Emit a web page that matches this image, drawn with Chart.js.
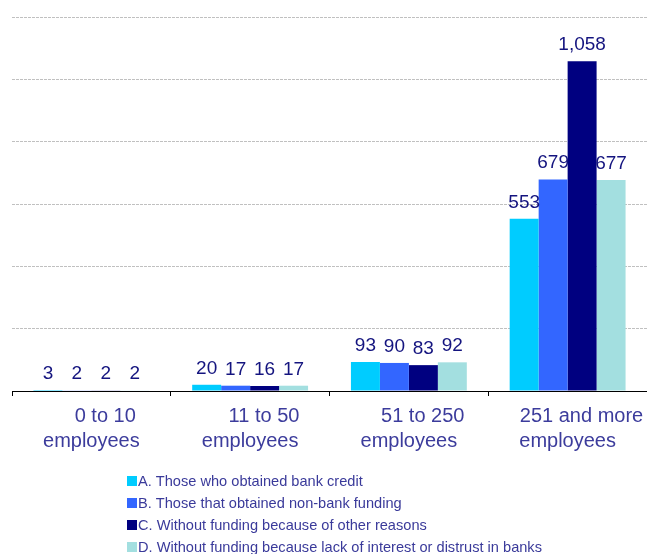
<!DOCTYPE html>
<html>
<head>
<meta charset="utf-8">
<script src="https://cdn.jsdelivr.net/npm/chart.js@4"></script>
<style>
  html, body { margin: 0; padding: 0; background: #fff; }
  #wrap { width: 647px; height: 554px; }
</style>
</head>
<body>
<div id="wrap"><canvas id="fundingChart" width="647" height="554"></canvas></div>
<script>
// company size groups (leading spaces keep the first line a bit to the right)
const categories = [
    ['     0 to 10', 'employees'],
    ['     11 to 50', 'employees'],
    ['     51 to 250', 'employees'],
    ['     251 and more', 'employees']
];
const seriesNames = [
    'A. Those who obtained bank credit',
    'B. Those that obtained non-bank funding',
    'C. Without funding because of other reasons',
    'D. Without funding because lack of interest or distrust in banks'
];
const bankCredit = [3, 20, 93, 553];
const nonBank = [2, 17, 90, 679];
const otherReasons = [2, 16, 83, 1058];
const distrust = [2, 17, 92, 677];
const seriesColors = ['#00ccff', '#3366ff', '#000080', '#a3dfe0'];

const FONT = '"Liberation Sans", Arial, sans-serif';

// numbers above each bar
const valueLabels = {
    id: 'valueLabels',
    afterDatasetsDraw(chart) {
        const ctx = chart.ctx;
        ctx.save();
        ctx.font = '19px ' + FONT;
        ctx.fillStyle = '#14147f';
        ctx.textAlign = 'center';
        ctx.textBaseline = 'alphabetic';
        chart.data.datasets.forEach((ds, i) => {
            chart.getDatasetMeta(i).data.forEach((bar, j) => {
                ctx.fillText(ds.data[j].toLocaleString('en-US'), bar.x, bar.y - 11);
            });
        });
        ctx.restore();
    }
};

// stacked legend under the axis
const stackedLegend = {
    id: 'stackedLegend',
    afterDraw(chart) {
        const ctx = chart.ctx;
        ctx.save();
        ctx.font = '14.6px ' + FONT;
        ctx.textBaseline = 'middle';
        chart.data.datasets.forEach((ds, i) => {
            const y = 481 + i * 22;
            ctx.fillStyle = ds.backgroundColor;
            ctx.fillRect(127, y - 5, 10, 10);
            ctx.fillStyle = '#3a3a9a';
            ctx.fillText(ds.label, 138, y + 1);
        });
        ctx.restore();
    }
};

const values = [bankCredit, nonBank, otherReasons, distrust];

const ctx = document.getElementById('fundingChart').getContext('2d');
const fundingChart = new Chart(ctx, {
    type: 'bar',
    data: {
        labels: categories,
        datasets: values.map((data, i) => ({
            label: seriesNames[i],
            data: data,
            backgroundColor: seriesColors[i],
            borderWidth: 0,
            barPercentage: 1,
            categoryPercentage: 0.73
        }))
    },
    options: {
        responsive: false,
        animation: false,
        layout: {
            padding: { left: 12, right: -1, top: 17, bottom: 0 }
        },
        plugins: {
            legend: { display: false },
            tooltip: { enabled: false }
        },
        scales: {
            x: {
                grid: {
                    offset: true,
                    drawOnChartArea: false,
                    drawTicks: true,
                    tickLength: 5,
                    color: '#000'
                },
                border: { display: true, color: '#000', width: 1 },
                ticks: {
                    color: '#3c3c9c',
                    padding: 8,
                    maxRotation: 0,
                    autoSkip: false,
                    font: { family: FONT, size: 20, lineHeight: 1.25 }
                },
                afterFit(scale) {
                    scale.height = 163;
                    // the last label may hang past the edge, as it does in print
                    scale.paddingRight = 0;
                }
            },
            y: {
                min: 0,
                max: 1200,
                ticks: { display: false, stepSize: 200 },
                grid: {
                    color: '#c0c0c0',
                    drawTicks: false
                },
                border: { display: false, dash: [3, 1] }
            }
        }
    },
    plugins: [valueLabels, stackedLegend]
});
</script>
</body>
</html>
